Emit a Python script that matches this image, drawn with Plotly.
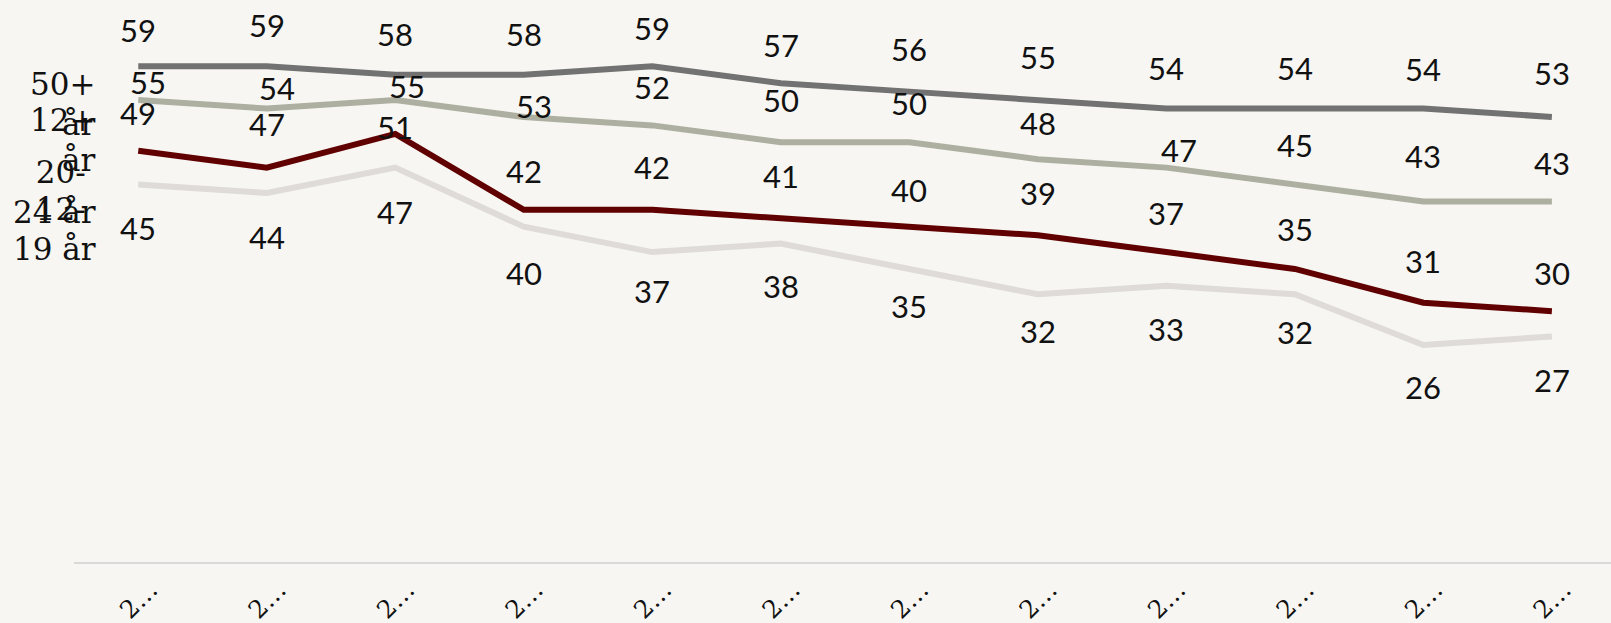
import plotly.graph_objects as go

# Survey periods (axis labels are truncated years)
periods = [1, 2, 3, 4, 5, 6, 7, 8, 9, 10, 11, 12]
tick_labels = ["2…", "2…", "2…", "2…", "2…", "2…", "2…", "2…", "2…", "2…", "2…", "2…"]

# Share (%) per age group
age_50_plus = [59, 59, 58, 58, 59, 57, 56, 55, 54, 54, 54, 53]
age_12_plus = [55, 54, 55, 53, 52, 50, 50, 48, 47, 45, 43, 43]
age_20_24 = [49, 47, 51, 42, 42, 41, 40, 39, 37, 35, 31, 30]
age_12_19 = [45, 44, 47, 40, 37, 38, 35, 32, 33, 32, 26, 27]

# Label offsets in pixels (positive dy = above the point)
dy_50_plus = [36, 41, 41, 41, 38, 38, 43, 43, 41, 41, 40, 44]
dy_12_plus = [18, 21, 14, 11, 38, 42, 39, 36, 18, 40, 45, 38]
dy_20_24 = [38, 44, 7, 39, 43, 42, 37, 42, 39, 40, 42, 38]
dy_12_19 = [-43, -44, -44, -46, -39, -42, -37, -37, -43, -38, -42, -43]
dx_12_plus = [10, 10, 12, 10, 0, 0, 0, 0, 13, 0, 0, 0]
dx_none = [0, 0, 0, 0, 0, 0, 0, 0, 0, 0, 0, 0]

series = [
    ("50+<br>år", age_50_plus, "#727272", dy_50_plus, dx_none, -38),
    ("12+<br>år", age_12_plus, "#ADB0A0", dy_12_plus, dx_12_plus, -40),
    ("20-\u00a0<br>24 år", age_20_24, "#600000", dy_20_24, dx_none, -41),
    ("12-\u00a0<br>19 år", age_12_19, "#DEDBD9", dy_12_19, dx_none, -44),
]

BG = "#F7F6F2"
label_font = dict(family="Lato, Open Sans, sans-serif", size=31, color="#111111")
name_font = dict(family="DejaVu Serif, serif", size=31, color="#111111")

fig = go.Figure()
annotations = []

# Draw the light line first so darker lines sit on top
for name, values, color, dy, dx, name_dy in reversed(series):
    fig.add_trace(go.Scatter(
        x=periods, y=values, mode="lines",
        line=dict(color=color, width=6),
        hoverinfo="skip", showlegend=False,
    ))

for name, values, color, dy, dx, name_dy in series:
    for xv, yv, oy, ox in zip(periods, values, dy, dx):
        annotations.append(dict(
            x=xv, y=yv, xref="x", yref="y", text=str(yv),
            showarrow=False, xanchor="center", yanchor="middle",
            xshift=ox, yshift=oy, font=label_font,
        ))
    # Series name to the left of the first point
    annotations.append(dict(
        x=0, y=values[0], xref="paper", yref="y", text=name,
        showarrow=False, xanchor="right", yanchor="middle", align="right",
        xshift=24, yshift=name_dy, font=name_font,
    ))

fig.update_layout(
    width=1611, height=623,
    margin=dict(l=74, r=0, t=0, b=61, autoexpand=False),
    paper_bgcolor=BG, plot_bgcolor=BG,
    annotations=annotations,
    xaxis=dict(
        range=[0.5, 12.46], tickmode="array", tickvals=periods, ticktext=tick_labels,
        tickangle=-45, ticks="", showgrid=False, zeroline=False, automargin=False,
        showline=True, linecolor="#D9D9D9", linewidth=2,
        ticklabelshift=12, ticklabelstandoff=1,
        tickfont=dict(family="DejaVu Serif, serif", size=25, color="#111111"),
    ),
    yaxis=dict(range=[0.3, 66.85], visible=False, showgrid=False, zeroline=False),
)

fig.write_html("out.html")
